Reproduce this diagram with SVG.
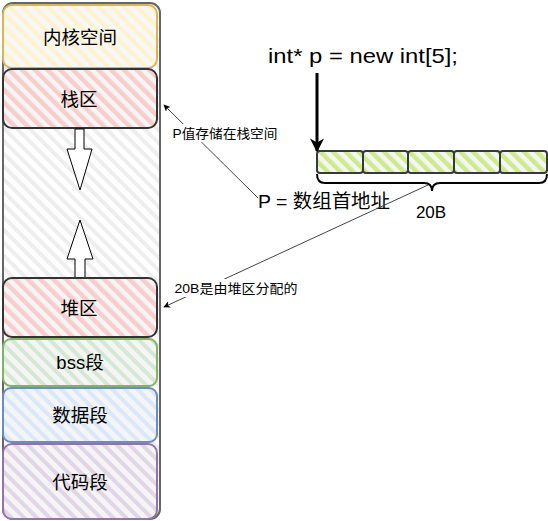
<svg xmlns="http://www.w3.org/2000/svg" width="548" height="521" viewBox="0 0 548 521">
<defs>
  <pattern id="hGray" width="9" height="9" patternUnits="userSpaceOnUse" patternTransform="rotate(-45)"><rect width="9" height="9" fill="#ffffff"/><rect width="4" height="9" fill="#eeeeee"/></pattern>
  <pattern id="hYellow" width="9" height="9" patternUnits="userSpaceOnUse" patternTransform="rotate(-45)"><rect width="9" height="9" fill="#f7f7f7"/><rect width="4" height="9" fill="#fff2cc"/></pattern>
  <pattern id="hRed" width="9" height="9" patternUnits="userSpaceOnUse" patternTransform="rotate(-45)"><rect width="9" height="9" fill="#f5f5f5"/><rect width="4.5" height="9" fill="#f8cecc"/></pattern>
  <pattern id="hGreen" width="9" height="9" patternUnits="userSpaceOnUse" patternTransform="rotate(-45)"><rect width="9" height="9" fill="#f5f5f5"/><rect width="4" height="9" fill="#d5e8d4"/></pattern>
  <pattern id="hBlue" width="9" height="9" patternUnits="userSpaceOnUse" patternTransform="rotate(-45)"><rect width="9" height="9" fill="#f5f5f5"/><rect width="4" height="9" fill="#dae8fc"/></pattern>
  <pattern id="hPurple" width="9" height="9" patternUnits="userSpaceOnUse" patternTransform="rotate(-45)"><rect width="9" height="9" fill="#f5f5f5"/><rect width="4" height="9" fill="#e1d5e7"/></pattern>
  <pattern id="hLime" width="9" height="9" patternUnits="userSpaceOnUse" patternTransform="rotate(-45)"><rect width="9" height="9" fill="#f5f5f5"/><rect width="4.5" height="9" fill="#cdeb8b"/></pattern>
  <marker id="arr" viewBox="0 0 10 10" refX="9" refY="5" markerWidth="7" markerHeight="7" orient="auto-start-reverse" markerUnits="userSpaceOnUse"><path d="M0,0 L10,5 L0,10 L3,5 Z" fill="#000"/></marker>
  <marker id="bigArr" viewBox="0 0 10 10" refX="9" refY="5" markerWidth="14" markerHeight="14" orient="auto" markerUnits="userSpaceOnUse"><path d="M0,0 L10,5 L0,10 L3,5 Z" fill="#000"/></marker>
</defs>
<style>
  .t { font-family: "Liberation Sans", "Noto Sans CJK SC", sans-serif; fill: #000; text-anchor: middle; dominant-baseline: central; }
  .seg { font-size: 18.5px; }
  .lbl { font-size: 13px; }
  .conn { fill: none; stroke: #444; stroke-width: 1; }
  .cell { fill: url(#hLime); stroke: #36393d; stroke-width: 2; }
</style>

<g id="memory">
  <rect x="3" y="3" width="157" height="516" rx="10" fill="url(#hGray)" stroke="#666" stroke-width="2"/>
</g>
<g id="kernel">
  <rect x="3" y="5" width="154" height="63" rx="9" fill="url(#hYellow)" stroke="#d6b656" stroke-width="2"/>
  <text class="t seg" x="80" y="37">内核空间</text>
</g>
<g id="stack">
  <rect x="3" y="69" width="154" height="59" rx="9" fill="url(#hRed)" stroke="#333" stroke-width="2"/>
  <text class="t seg" x="79" y="99">栈区</text>
</g>
<g id="stack-grow">
  <path d="M75,129 L84,129 L84,149 L92,149 L80,190 L67,149 L75,149 Z" fill="#fff" stroke="#000" stroke-width="1"/>
</g>
<g id="heap-grow">
  <path d="M75,278 L85,278 L85,259 L93,259 L80,220 L67,259 L75,259 Z" fill="#fff" stroke="#000" stroke-width="1"/>
</g>
<g id="heap">
  <rect x="3" y="278" width="154" height="59" rx="9" fill="url(#hRed)" stroke="#333" stroke-width="2"/>
  <text class="t seg" x="79" y="308">堆区</text>
</g>
<g id="bss">
  <rect x="3" y="339" width="154" height="47" rx="8" fill="url(#hGreen)" stroke="#82b366" stroke-width="2"/>
  <text class="t seg" x="80" y="362">bss段</text>
</g>
<g id="data">
  <rect x="3" y="388" width="154" height="54" rx="8" fill="url(#hBlue)" stroke="#6c8ebf" stroke-width="2"/>
  <text class="t seg" x="80" y="415">数据段</text>
</g>
<g id="code">
  <rect x="3" y="444" width="154" height="75" rx="9" fill="url(#hPurple)" stroke="#9673a6" stroke-width="2"/>
  <text class="t seg" x="80" y="482">代码段</text>
</g>

<g id="code-line">
  <text class="t" x="363" y="55" font-size="21" textLength="190" lengthAdjust="spacingAndGlyphs">int* p = new int[5];</text>
</g>

<g id="array">
  <rect class="cell" x="317" y="151" width="46" height="22" rx="3"/>
  <rect class="cell" x="363" y="151" width="45" height="22" rx="3"/>
  <rect class="cell" x="408" y="151" width="46" height="22" rx="3"/>
  <rect class="cell" x="454" y="151" width="46" height="22" rx="3"/>
  <rect class="cell" x="500" y="151" width="47" height="22" rx="3"/>
</g>
<g id="brace">
  <path d="M317,174 Q317,183 325,183 L424,183 Q432,183 432,191 Q432,183 440,183 L539,183 Q547,183 547,174" fill="none" stroke="#000" stroke-width="2"/>
  <text class="t" x="431" y="212" font-size="17">20B</text>
</g>
<g id="p-label">
  <text class="t" x="324" y="201" font-size="19" textLength="132" lengthAdjust="spacingAndGlyphs">P = 数组首地址</text>
</g>

<g id="connectors">
  <path d="M317,73 L317,151" fill="none" stroke="#000" stroke-width="3" marker-end="url(#bigArr)"/>
  <path class="conn" d="M258,198 L164,105" marker-end="url(#arr)"/>
  <path class="conn" d="M428,185 L164,307" marker-end="url(#arr)"/>
  <rect x="170" y="124" width="110" height="18" fill="#fff"/>
  <text class="t lbl" x="225" y="133" textLength="105" lengthAdjust="spacingAndGlyphs">P值存储在栈空间</text>
  <rect x="172" y="279" width="128" height="18" fill="#fff"/>
  <text class="t lbl" x="236" y="288" textLength="123" lengthAdjust="spacingAndGlyphs">20B是由堆区分配的</text>
</g>
</svg>
